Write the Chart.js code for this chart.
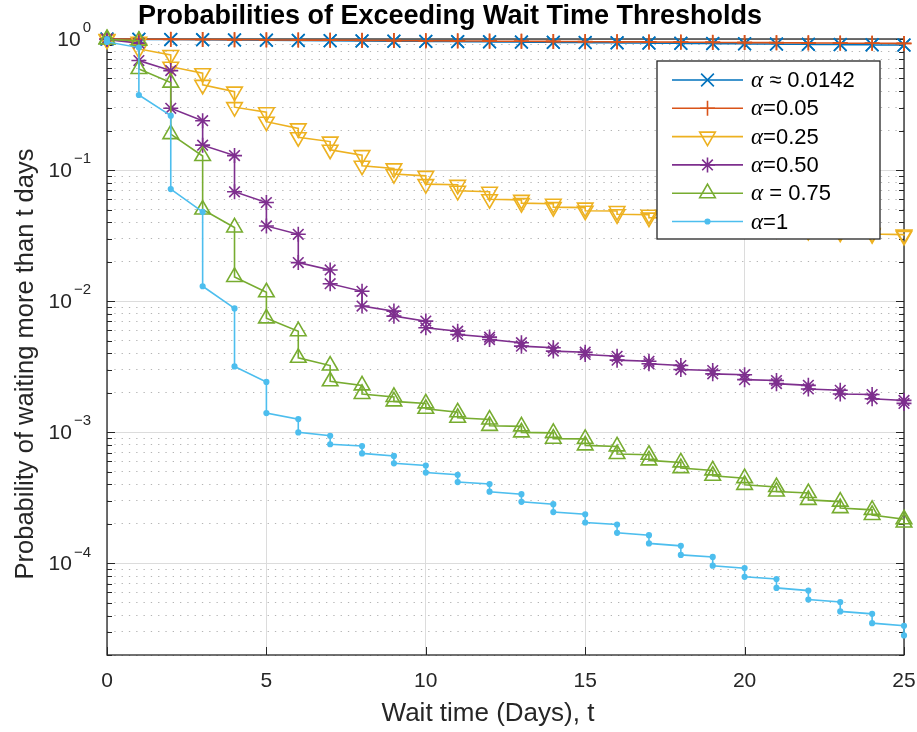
<!DOCTYPE html>
<html>
<head>
<meta charset="utf-8">
<script src="https://cdn.jsdelivr.net/npm/chart.js@4.4.1/dist/chart.umd.min.js"></script>
<style>
  html, body { margin: 0; padding: 0; background: #fff; }
  #wrap { width: 917px; height: 732px; }
</style>
</head>
<body>
<div id="wrap"><canvas id="chart" width="917" height="732"></canvas></div>
<script>
// data
const days = [0,1,2,3,4,5,6,7,8,9,10,11,12,13,14,15,16,17,18,19,20,21,22,23,24,25];

const seriesLabels = ['α ≈ 0.0142', 'α=0.05', 'α=0.25', 'α=0.50', 'α = 0.75', 'α=1'];
const seriesColors = ['#0072BD', '#D95319', '#EDB120', '#7E2F8E', '#77AC30', '#4DBEEE'];

// value just before the drop at day t, and just after it
const a0142Before = [1, .996, .992, .988, .984, .980, .976, .972, .968, .964, .960, .956, .952, .948, .944, .940, .936, .932, .928, .924, .920, .916, .912, .908, .904, .900];
const a0142After  = [.998, .994, .990, .986, .982, .978, .974, .970, .966, .962, .958, .954, .950, .946, .942, .938, .934, .930, .926, .922, .918, .914, .910, .906, .902, .898];

const a005Before = [1, .998, .995, .992, .989, .986, .983, .980, .977, .974, .971, .968, .965, .962, .959, .956, .953, .950, .947, .944, .941, .938, .935, .932, .929, .926];
const a005After  = [.999, .996, .993, .990, .987, .984, .981, .978, .975, .972, .969, .966, .963, .960, .957, .954, .951, .948, .945, .942, .939, .936, .933, .930, .927, .924];

const a025Before = [1, .95, .755, .548, .397, .276, .208, .165, .130, .103, .0904, .0772, .0683, .0593, .0553, .0517, .0487, .0457, .0430, .0405, .0385, .0367, .0352, .0340, .0331, .0322];
const a025After  = [.99, .84, .615, .447, .302, .234, .178, .143, .108, .0932, .0781, .0695, .0600, .0560, .0522, .0490, .0460, .0434, .0410, .0388, .0370, .0355, .0343, .0333, .0325, .0315];

const a050Before = [1, .93, .574, .238, .129, .0566, .0324, .0173, .0119, .0084, .00705, .00591, .00532, .00482, .00441, .00408, .0038, .00348, .00323, .00296, .00275, .00248, .00228, .00209, .00194, .00175];
const a050After  = [.99, .685, .296, .155, .0683, .0375, .0197, .0136, .00918, .00769, .00627, .00557, .0051, .00454, .00416, .00392, .00355, .00333, .00301, .00279, .00252, .00235, .00214, .00196, .0018, .00166];

const a075Before = [1, .97, .465, .128, .0365, .0117, .0059, .00323, .00228, .00186, .00166, .00142, .00125, .00111, .00099, .00089, .00078, .000674, .000589, .000512, .000447, .000382, .000344, .000296, .000256, .000217];
const a075After  = [.99, .59, .188, .050, .0153, .0074, .0037, .00245, .00196, .00172, .00151, .00129, .00112, .000998, .000893, .000794, .000683, .00061, .000533, .000466, .000397, .000353, .000305, .000264, .000234, .000205];

const a1Before = [1, .86, .26, .048, .0088, .00242, .00126, .00094, .000785, .00066, .000558, .000474, .000403, .000337, .000283, .000237, .000198, .000164, .000136, .000112, .000092, .000076, .000062, .0000507, .0000412, .0000334];
const a1After  = [.95, .374, .0716, .0130, .00318, .0014, .000998, .00081, .00069, .00058, .000493, .000417, .000352, .000295, .000246, .000205, .000171, .000142, .000116, .000096, .000079, .000065, .000053, .000043, .000035, .0000282];

const xTicks = [0, 5, 10, 15, 20, 25];
const yExponents = [0, -1, -2, -3, -4];

const chartTitle = 'Probabilities of Exceeding Wait Time Thresholds';
const xTitle = 'Wait time (Days), t';
const yTitle = 'Probability of waiting more than t days';

const FONT = '"Liberation Sans", Arial, Helvetica, sans-serif';
const AXIS_COLOR = '#262626';

function stepPoints(before, after) {
    const pts = [];
    days.forEach((t, i) => {
        pts.push({x: t, y: before[i]});
        pts.push({x: t, y: after[i]});
    });
    return pts;
}

const allBefore = [a0142Before, a005Before, a025Before, a050Before, a075Before, a1Before];
const allAfter = [a0142After, a005After, a025After, a050After, a075After, a1After];

// marker look for each series (matlab-ish)
const markers = [
    {pointStyle: 'crossRot', radius: 9, rotation: 0, fill: 'rgba(0,0,0,0)'},
    {pointStyle: 'cross', radius: 7.5, rotation: 0, fill: 'rgba(0,0,0,0)'},
    {pointStyle: 'triangle', radius: 9, rotation: 180, fill: 'rgba(0,0,0,0)'},
    {pointStyle: 'star', radius: 7.5, rotation: 0, fill: 'rgba(0,0,0,0)'},
    {pointStyle: 'triangle', radius: 9, rotation: 0, fill: 'rgba(0,0,0,0)'},
    {pointStyle: 'circle', radius: 2.3, rotation: 0, fill: '#4DBEEE'}
];

const datasets = seriesLabels.map((label, i) => ({
    label: label,
    data: stepPoints(allBefore[i], allAfter[i]),
    borderColor: seriesColors[i],
    backgroundColor: seriesColors[i],
    borderWidth: 1.6,
    pointStyle: markers[i].pointStyle,
    pointRadius: markers[i].radius,
    pointRotation: markers[i].rotation,
    pointBorderWidth: 1.6,
    pointBorderColor: seriesColors[i],
    pointBackgroundColor: markers[i].fill,
    tension: 0,
    clip: false,
    order: seriesLabels.length - i
}));

const boxAndLabels = {
    id: 'boxAndLabels',
    beforeDatasetsDraw(chart) {
        const {ctx, chartArea: {left, right, top, bottom}, scales: {x, y}} = chart;
        ctx.save();
        ctx.strokeStyle = AXIS_COLOR;
        ctx.lineWidth = 1.3;
        ctx.strokeRect(left, top, right - left, bottom - top);
        ctx.lineWidth = 1;
        ctx.beginPath();
        y.ticks.forEach(t => {
            const py = Math.round(y.getPixelForValue(t.value)) + 0.5;
            const len = t.major ? 8 : 5;
            ctx.moveTo(left, py); ctx.lineTo(left + len, py);
            ctx.moveTo(right, py); ctx.lineTo(right - len, py);
        });
        x.ticks.forEach(t => {
            const px = Math.round(x.getPixelForValue(t.value)) + 0.5;
            ctx.moveTo(px, bottom); ctx.lineTo(px, bottom - 8);
            ctx.moveTo(px, top); ctx.lineTo(px, top + 8);
        });
        ctx.stroke();
        ctx.restore();
    },
    afterDraw(chart) {
        const {ctx, scales: {y}} = chart;
        ctx.save();

        // title
        ctx.fillStyle = '#000';
        ctx.textAlign = 'center';
        ctx.textBaseline = 'middle';
        ctx.font = 'bold 27px ' + FONT;
        ctx.fillText(chartTitle, 450, 17);

        ctx.fillStyle = AXIS_COLOR;
        // y tick labels 10^k
        yExponents.forEach(e => {
            const py = y.getPixelForValue(Math.pow(10, e));
            const expText = e === 0 ? '0' : '\u2212' + Math.abs(e);
            ctx.font = '15px ' + FONT;
            const expW = ctx.measureText(expText).width;
            const expX = 91 - expW;
            ctx.textAlign = 'left';
            ctx.textBaseline = 'middle';
            ctx.fillText(expText, expX, py - 11);
            ctx.font = '21px ' + FONT;
            ctx.textAlign = 'right';
            ctx.fillText('10', expX - 2, py + 1);
        });

        // axis titles
        ctx.textAlign = 'center';
        ctx.textBaseline = 'middle';
        ctx.font = '26px ' + FONT;
        ctx.fillText(xTitle, 488, 714);
        ctx.save();
        ctx.translate(26, 364);
        ctx.rotate(-Math.PI / 2);
        ctx.font = '25.5px ' + FONT;
        ctx.fillText(yTitle, 0, 0);
        ctx.restore();

        // legend box
        const lx = 657, ly = 61, lw = 223, lh = 178;
        ctx.fillStyle = '#fff';
        ctx.fillRect(lx, ly, lw, lh);
        ctx.strokeStyle = AXIS_COLOR;
        ctx.lineWidth = 1.3;
        ctx.strokeRect(lx, ly, lw, lh);
        chart.data.datasets.forEach((ds, i) => {
            const rowY = 80 + i * 28.3;
            ctx.strokeStyle = ds.borderColor;
            ctx.lineWidth = ds.borderWidth;
            ctx.beginPath();
            ctx.moveTo(672, rowY);
            ctx.lineTo(743, rowY);
            ctx.stroke();
            ctx.fillStyle = ds.pointBackgroundColor;
            ctx.lineWidth = ds.pointBorderWidth;
            Chart.helpers.drawPoint(ctx, {
                pointStyle: ds.pointStyle,
                rotation: ds.pointRotation,
                radius: ds.pointRadius,
                borderWidth: ds.pointBorderWidth
            }, 707.5, rowY);
            // alpha in italic serif, rest in sans
            ctx.fillStyle = '#000';
            ctx.textAlign = 'left';
            ctx.textBaseline = 'middle';
            ctx.font = 'italic 23px "Liberation Serif", "Times New Roman", serif';
            ctx.fillText('α', 751, rowY + 1);
            const aw = ctx.measureText('α').width;
            ctx.font = '22px ' + FONT;
            ctx.fillText(ds.label.slice(1), 751 + aw, rowY + 1);
        });
        ctx.restore();
    }
};

Chart.defaults.font.family = FONT;

new Chart(document.getElementById('chart'), {
    type: 'line',
    data: {datasets: datasets},
    options: {
        responsive: false,
        animation: false,
        devicePixelRatio: 1,
        layout: {padding: {left: 0, right: 0, top: 39, bottom: 0}},
        plugins: {
            legend: {display: false},
            tooltip: {enabled: false},
            title: {display: false}
        },
        scales: {
            x: {
                type: 'linear',
                min: 0,
                max: 25,
                afterBuildTicks: s => { s.ticks = xTicks.map(v => ({value: v})); },
                afterFit: s => {
                    s.height = 77;
                    s.paddingLeft = 0;
                    s.paddingRight = 13;
                },
                grid: {color: '#dcdcdc', lineWidth: 1, drawTicks: false},
                border: {display: false},
                ticks: {color: AXIS_COLOR, font: {size: 21}, padding: 14, maxRotation: 0}
            },
            y: {
                type: 'logarithmic',
                min: 2e-5,
                max: 1,
                afterBuildTicks: s => {
                    const ticks = [];
                    for (let e = -5; e <= 0; e++) {
                        for (let m = 1; m <= 9; m++) {
                            const v = m * Math.pow(10, e);
                            if (v >= 2e-5 * 0.999 && v <= 1.0001) ticks.push({value: v, major: m === 1});
                        }
                    }
                    s.ticks = ticks;
                },
                afterFit: s => { s.width = 107; },
                grid: {
                    color: c => (c.tick && c.tick.major) ? '#dcdcdc' : '#b4b4b4',
                    lineWidth: 1,
                    drawTicks: false
                },
                border: {
                    display: false,
                    dash: c => (c.tick && !c.tick.major) ? [1.3, 6] : []
                },
                ticks: {display: false}
            }
        }
    },
    plugins: [boxAndLabels]
});
</script>
</body>
</html>
